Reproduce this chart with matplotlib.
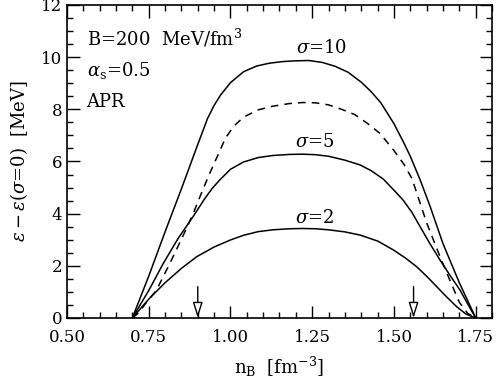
import matplotlib
matplotlib.use("Agg")
from matplotlib import pyplot as plt
from matplotlib.ticker import MultipleLocator

# sigma = 10
nB_s10 = [0.70, 0.75, 0.80, 0.85, 0.90, 0.93, 0.95, 0.97, 1.00, 1.04, 1.08, 1.12,
          1.16, 1.20, 1.24, 1.28, 1.32, 1.36, 1.40, 1.43, 1.46, 1.50, 1.53, 1.55,
          1.58, 1.61, 1.65, 1.70, 1.75]
e_s10 = [0.0, 1.6, 3.3, 4.95, 6.65, 7.65, 8.15, 8.55, 9.02, 9.44, 9.66, 9.77,
         9.83, 9.86, 9.87, 9.8, 9.65, 9.42, 9.04, 8.68, 8.25, 7.45, 6.72, 6.2,
         5.3, 4.3, 2.85, 1.35, 0.0]

# dashed curve
nB_dash = [0.70, 0.72, 0.74, 0.774, 0.815, 0.861, 0.886, 0.91, 0.935, 0.96, 0.985,
           1.01, 1.04, 1.085, 1.13, 1.18, 1.22, 1.26, 1.30, 1.34, 1.38, 1.42,
           1.457, 1.50, 1.53, 1.555, 1.60, 1.64, 1.67, 1.70, 1.725, 1.75]
e_dash = [0.0, 0.2, 0.55, 1.07, 2.1, 3.31, 4.0, 4.75, 5.5, 6.2, 6.9,
          7.35, 7.7, 7.98, 8.12, 8.22, 8.26, 8.25, 8.17, 8.0, 7.8, 7.45,
          7.08, 6.42, 5.9, 5.35, 3.65, 2.38, 1.48, 0.6, 0.18, 0.0]

# sigma = 5
nB_s5 = [0.70, 0.75, 0.795, 0.84, 0.886, 0.92, 0.945, 0.968, 1.00, 1.04, 1.085,
         1.13, 1.18, 1.22, 1.26, 1.30, 1.35, 1.396, 1.43, 1.467, 1.50, 1.528,
         1.555, 1.58, 1.61, 1.641, 1.67, 1.702, 1.725, 1.75]
e_s5 = [0.0, 1.05, 2.1, 3.05, 3.89, 4.55, 4.98, 5.3, 5.7, 5.98, 6.15,
        6.23, 6.27, 6.28, 6.26, 6.2, 6.05, 5.87, 5.65, 5.33, 4.9, 4.52,
        4.05, 3.5, 2.85, 2.22, 1.66, 1.07, 0.55, 0.0]

# sigma = 2
nB_s2 = [0.70, 0.75, 0.80, 0.85, 0.897, 0.95, 1.00, 1.04, 1.085, 1.13, 1.18, 1.22,
         1.26, 1.30, 1.35, 1.396, 1.45, 1.498, 1.535, 1.569, 1.60, 1.631, 1.66,
         1.692, 1.72, 1.75]
e_s2 = [0.0, 0.72, 1.35, 1.9, 2.35, 2.72, 2.99, 3.17, 3.31, 3.38, 3.42, 3.43,
        3.42, 3.38, 3.3, 3.18, 2.95, 2.61, 2.3, 1.97, 1.6, 1.2, 0.82,
        0.43, 0.15, 0.0]

arrows_nB = [0.90, 1.56]

plt.rcParams['font.family'] = 'DejaVu Serif'
plt.rcParams['mathtext.fontset'] = 'dejavuserif'

fig = plt.figure(figsize=(4.96, 3.84), dpi=100)
ax = fig.add_axes([0.135, 0.172, 0.857, 0.815])

ax.plot(nB_s10, e_s10, color='black', lw=1.1)
ax.plot(nB_dash, e_dash, color='black', lw=1.1, ls=(0, (5, 4)))
ax.plot(nB_s5, e_s5, color='black', lw=1.1)
ax.plot(nB_s2, e_s2, color='black', lw=1.1)

for xa in arrows_nB:
    ax.annotate('', xy=(xa, 0), xytext=(xa, 1.2),
                arrowprops=dict(arrowstyle='-|>,head_length=0.95,head_width=0.3',
                                fc='white', ec='black', lw=1,
                                shrinkA=0, shrinkB=0, mutation_scale=10))

ax.text(0.56, 10.74, r'B=200  MeV/fm$^3$', fontsize=13, va='center')
ax.text(0.56, 9.47, r'$\alpha_{\rm s}$=0.5', fontsize=13, va='center')
ax.text(0.56, 8.28, 'APR', fontsize=13, va='center')

ax.text(1.28, 10.35, r'$\sigma$=10', fontsize=13, ha='center', va='center')
ax.text(1.258, 6.75, r'$\sigma$=5', fontsize=13, ha='center', va='center')
ax.text(1.258, 3.83, r'$\sigma$=2', fontsize=13, ha='center', va='center')

ax.set_xlim(0.5, 1.8)
ax.set_ylim(0, 12)
ax.xaxis.set_minor_locator(MultipleLocator(0.05))
ax.yaxis.set_major_locator(MultipleLocator(2))
ax.yaxis.set_minor_locator(MultipleLocator(0.5))
ax.set_xticks([0.5, 0.75, 1.0, 1.25, 1.5, 1.75])
ax.set_xticklabels(['0.50', '0.75', '1.00', '1.25', '1.50', '1.75'])
ax.tick_params(which='both', direction='in', top=True, right=True, labelsize=12)
ax.tick_params(which='major', length=9, width=1)
ax.tick_params(which='minor', length=4.5, width=1)
ax.tick_params(axis='x', which='major', pad=8)
for s in ax.spines.values():
    s.set_linewidth(1.2)

ax.set_xlabel(r'n$_{\rm B}$  [fm$^{-3}$]', fontsize=13, labelpad=6)
ax.set_ylabel(r'$\epsilon-\epsilon(\sigma$=0)  [MeV]', fontsize=13, labelpad=8)

fig.savefig('out.png', dpi=100)
plt.close(fig)
